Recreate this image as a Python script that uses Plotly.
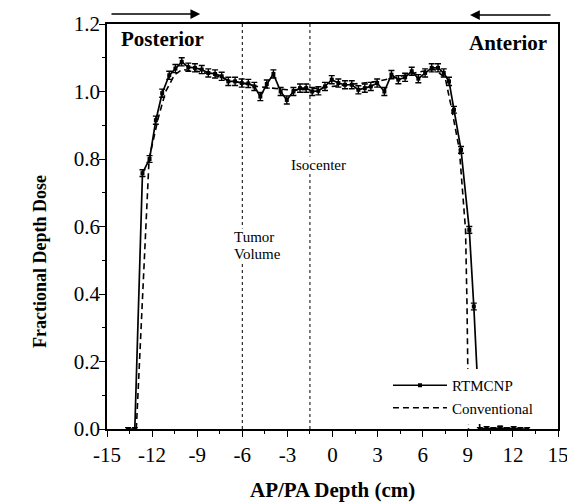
import plotly.graph_objects as go

# ---------------- data ----------------
rt_x = [-13.6, -13.15, -12.64, -12.17, -11.75, -11.33, -10.86, -10.45, -10.03, -9.59,
        -9.15, -8.7, -8.26, -7.81, -7.37, -6.93, -6.48, -6.04, -5.6, -5.2,
        -4.8, -4.37, -3.93, -3.45, -3.04, -2.6, -2.16, -1.75, -1.35, -0.94,
        -0.5, -0.05, 0.39, 0.83, 1.28, 1.72, 2.15, 2.55, 2.97, 3.45,
        3.92, 4.38, 4.83, 5.27, 5.71, 6.16, 6.6, 7.02, 7.4, 7.75,
        8.08, 8.55, 9.1, 9.4, 9.8, 10.25, 10.7, 11.15, 11.6, 12.05,
        12.5, 12.95]
rt_y = [0.0, 0.0, 0.758, 0.80, 0.915, 0.995, 1.048, 1.068, 1.088, 1.072,
        1.07, 1.065, 1.055, 1.052, 1.045, 1.03, 1.03, 1.025, 1.024, 1.015,
        0.985, 1.022, 1.052, 1.0, 0.975, 1.0, 1.01, 1.01, 1.0, 1.002,
        1.015, 1.035, 1.025, 1.02, 1.02, 1.005, 1.01, 1.015, 1.025, 1.0,
        1.05, 1.035, 1.042, 1.06, 1.038, 1.055, 1.07, 1.07, 1.055, 1.03,
        0.946, 0.827, 0.59, 0.363, 0.0, 0.003, 0.0, 0.004, 0.0, 0.003,
        0.0, 0.0]
rt_err = [0.004, 0.004, 0.01, 0.01, 0.012, 0.012, 0.012, 0.012, 0.012, 0.012,
          0.012, 0.012, 0.012, 0.012, 0.012, 0.012, 0.012, 0.012, 0.012, 0.012,
          0.012, 0.012, 0.012, 0.012, 0.012, 0.012, 0.012, 0.012, 0.012, 0.012,
          0.012, 0.012, 0.012, 0.012, 0.012, 0.012, 0.012, 0.012, 0.012, 0.012,
          0.012, 0.012, 0.012, 0.012, 0.012, 0.012, 0.012, 0.012, 0.012, 0.012,
          0.01, 0.01, 0.01, 0.01, 0.004, 0.004, 0.004, 0.004, 0.004, 0.004,
          0.004, 0.004]

conv_x = [-13.05, -12.6, -12.2, -11.6, -11.1, -10.5, -10.0, -9.0, -8.0, -7.0,
          -6.0, -5.0, -4.0, -3.0, -2.0, -1.0, 0.0, 1.0, 2.0, 3.0,
          4.0, 5.0, 6.0, 6.8, 7.5, 7.94, 8.44, 8.85, 8.95, 9.05]
conv_y = [0.0, 0.4, 0.8, 0.92, 1.0, 1.05, 1.065, 1.06, 1.05, 1.035,
          1.025, 1.015, 1.01, 1.005, 1.005, 1.01, 1.015, 1.02, 1.025, 1.03,
          1.04, 1.05, 1.06, 1.065, 1.04, 0.946, 0.827, 0.59, 0.36, 0.0]

x_ticks = [-15, -12, -9, -6, -3, 0, 3, 6, 9, 12, 15]
y_ticks = [0.0, 0.2, 0.4, 0.6, 0.8, 1.0, 1.2]
marker_lines_x = [-6, -1.5]

SERIF = "Liberation Serif, Times New Roman, serif"

# body margin is removed by post_script: plot area on screen is x 107..558, y 24..429
W, H = 567, 503
ML, MR, MT, MB = 107, 9, 24, 74
PH = H - MT - MB  # plot height in px (405)


def py(screen_y):
    """screen pixel row -> paper y"""
    return (429 - screen_y) / PH


fig = go.Figure()

fig.add_trace(go.Scatter(
    x=conv_x, y=conv_y, mode="lines", name="Conventional",
    line=dict(color="black", width=1.6, dash="6px,4px"),
))
fig.add_trace(go.Scatter(
    x=rt_x, y=rt_y, mode="lines+markers", name="RTMCNP",
    line=dict(color="black", width=1.7),
    marker=dict(symbol="square", size=4, color="black"),
    error_y=dict(type="data", array=rt_err, color="black", thickness=1.4, width=3),
))

for xv in marker_lines_x:
    fig.add_shape(type="line", xref="x", yref="paper", x0=xv, x1=xv, y0=0, y1=1,
                  line=dict(color="black", width=1, dash="dot"), layer="below")

fig.update_layout(
    width=W, height=H,
    margin=dict(l=ML, r=MR, t=MT, b=MB),
    paper_bgcolor="white", plot_bgcolor="white",
    font=dict(family=SERIF, color="black", size=16),
    showlegend=True,
    legend=dict(
        x=0.623, y=py(369), xanchor="left", yanchor="top",
        bgcolor="white", borderwidth=0, traceorder="reversed",
        font=dict(family=SERIF, size=15), itemwidth=54,
        tracegroupgap=2,
    ),
    xaxis=dict(
        range=[-15, 15], tickvals=x_ticks, ticktext=[str(v) for v in x_ticks],
        showgrid=False, zeroline=False, showline=True, linecolor="black", linewidth=1.5,
        mirror=True, ticks="outside", ticklen=6, tickwidth=1.2, tickcolor="black",
        minor=dict(dtick=1.5, ticks="outside", ticklen=3, tickcolor="black", showgrid=False),
        tickfont=dict(family=SERIF, size=21), ticklabelstandoff=0, automargin=False,
        ticklabeloverflow="allow",
    ),
    yaxis=dict(
        range=[0, 1.2], tickvals=y_ticks, ticktext=[f"{v:.1f}" for v in y_ticks],
        showgrid=False, zeroline=False, showline=True, linecolor="black", linewidth=1.5,
        mirror=True, ticks="outside", ticklen=6, tickwidth=1.2, tickcolor="black",
        minor=dict(dtick=0.1, ticks="outside", ticklen=3, tickcolor="black", showgrid=False),
        tickfont=dict(family=SERIF, size=21), ticklabelstandoff=-5, automargin=False,
        ticklabeloverflow="allow",
    ),
)

annotations = [
    dict(text="<b>AP/PA Depth (cm)</b>", xref="paper", yref="paper", x=0.5, y=py(490),
         xanchor="center", yanchor="middle", showarrow=False, font=dict(size=21)),
    dict(text="<b>Fractional Depth Dose</b>", xref="paper", yref="paper", x=(40 - 107) / 451,
         y=py(262), xanchor="center", yanchor="middle", showarrow=False, textangle=-90,
         font=dict(size=18)),
    dict(text="<b>Posterior</b>", xref="paper", yref="paper", x=(119 - 107) / 451, y=py(39),
         xanchor="left", yanchor="middle", showarrow=False, font=dict(size=21)),
    dict(text="<b>Anterior</b>", xref="paper", yref="paper", x=(549 - 107) / 451, y=py(43),
         xanchor="right", yanchor="middle", showarrow=False, font=dict(size=21)),
    dict(text="Isocenter", xref="x", yref="paper", x=-0.93, y=py(165),
         xanchor="center", yanchor="middle", showarrow=False, font=dict(size=15),
         bgcolor="white", borderpad=0),
    dict(text="Tumor", xref="x", yref="paper", x=-6.62, y=py(237),
         xanchor="left", yanchor="middle", showarrow=False, font=dict(size=15),
         bgcolor="white", borderpad=0),
    dict(text="Volume", xref="x", yref="paper", x=-6.62, y=py(254),
         xanchor="left", yanchor="middle", showarrow=False, font=dict(size=15),
         bgcolor="white", borderpad=0),
    dict(text="", xref="x", yref="paper", x=-8.8, y=py(14), axref="x", ax=-14.8,
         ayref="pixel", ay=0, showarrow=True, arrowhead=2, arrowsize=1.3, arrowwidth=1.5,
         arrowcolor="black"),
    dict(text="", xref="x", yref="paper", x=9.15, y=py(15), axref="x", ax=14.6,
         ayref="pixel", ay=0, showarrow=True, arrowhead=2, arrowsize=1.3, arrowwidth=1.5,
         arrowcolor="black"),
]
fig.update_layout(annotations=annotations)

fig.write_html(
    "out.html",
    config={"displayModeBar": False},
    post_script="document.body.style.margin='0';document.body.style.overflow='hidden';",
)
